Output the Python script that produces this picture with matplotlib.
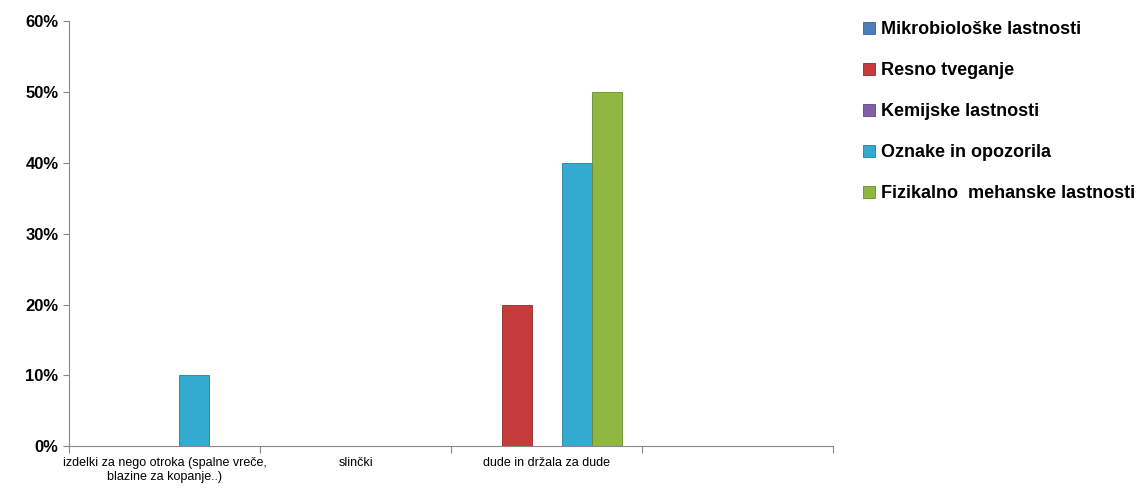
import matplotlib
matplotlib.use("Agg")
import matplotlib.pyplot as plt
import numpy as np
from matplotlib.ticker import PercentFormatter

plt.rcParams['font.family'] = ['Liberation Sans Narrow', 'Liberation Sans', 'DejaVu Sans']

categories = ["izdelki za nego otroka (spalne vreče,\nblazine za kopanje..)",
              "slinčki", "dude in držala za dude", ""]
series = ["Mikrobiološke lastnosti", "Resno tveganje", "Kemijske lastnosti",
          "Oznake in opozorila", "Fizikalno  mehanske lastnosti"]
mikro = [0, 0, 0, 0]
resno = [0, 0, 20, 0]
kemija = [0, 0, 0, 0]
oznake = [10, 0, 40, 0]
fizika = [0, 0, 50, 0]
values = [mikro, resno, kemija, oznake, fizika]
colors = ["#4a7ebb", "#c63c3d", "#7f5fa8", "#33aad0", "#8fb742"]
edges = ["#3a6394", "#8e2a2b", "#5f4780", "#23809d", "#6a8a2e"]

fig = plt.figure(figsize=(11.48, 4.92), dpi=100)
ax = fig.add_axes([0.060, 0.093, 0.666, 0.864])

x = np.arange(len(categories))
w = 0.157
for i, (name, vals) in enumerate(zip(series, values)):
    ax.bar(x + (i - 2) * w, vals, width=w, color=colors[i], edgecolor=edges[i],
           linewidth=0.6, label=name, zorder=3)

ax.set_xlim(-0.5, len(categories) - 0.5)
ax.set_ylim(0, 60)
ax.set_yticks(range(0, 61, 10))
ax.yaxis.set_major_formatter(PercentFormatter(decimals=0))
ax.tick_params(axis='y', length=4, color='#888888', labelsize=12)
for lab in ax.get_yticklabels():
    lab.set_fontweight('bold')

ax.set_xticks(np.arange(len(categories) + 1) - 0.5)
ax.set_xticklabels([])
ax.tick_params(axis='x', which='major', length=5, color='#888888')
ax.set_xticks(x, minor=True)
ax.set_xticklabels(categories, minor=True, fontsize=9)
ax.tick_params(axis='x', which='minor', length=0, pad=8)

for s in ['top', 'right']:
    ax.spines[s].set_visible(False)
for s in ['left', 'bottom']:
    ax.spines[s].set_color('#888888')

leg = fig.legend(loc='upper left', bbox_to_anchor=(0.738, 0.99), frameon=False,
                 fontsize=13, handlelength=0.65, handleheight=0.65, handletextpad=0.3,
                 labelspacing=1.33)
for t in leg.get_texts():
    t.set_fontweight('bold')

fig.savefig("out.png", dpi=100)
